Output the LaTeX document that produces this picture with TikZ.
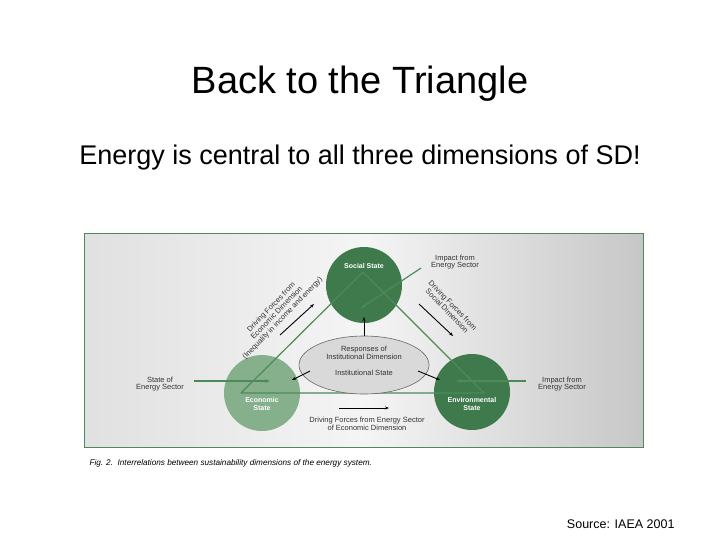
\documentclass[tikz,border=0pt]{standalone}
\usepackage{fontspec}
\setmainfont{Liberation Sans}
\usetikzlibrary{arrows.meta,shapes.geometric}
\definecolor{dg}{HTML}{3F7A4C}
\definecolor{lg}{HTML}{86B08C}
\definecolor{tl}{HTML}{4C8A5A}
\begin{document}
\begin{tikzpicture}[x=1pt,y=-1pt,
  lbl/.style={font=\fontsize{7.5}{7.8}\selectfont,align=center,text=black!80,inner sep=0pt},
  wl/.style={font=\fontsize{7}{7.5}\selectfont\bfseries,align=center,text=white},
  gl/.style={draw=tl,line width=1.2pt},
  ga/.style={draw=tl,line width=1.2pt,-{Stealth[length=5pt]}},
  ba/.style={draw=black,line width=0.9pt,-{Stealth[length=4pt]}}]
\useasboundingbox (0,0) rectangle (720,540);
\fill[white] (0,0) rectangle (720,540);
\node (title) at (360,84) {\fontsize{38}{42}\selectfont Back to the Triangle};
\node (sub) at (360,158) {\fontsize{27}{30}\selectfont Energy is central to all three dimensions of SD!};
% frame
\shade[left color=black!12,right color=black!22,middle color=black!4] (84,233) rectangle (643,447);
\draw[draw=tl,line width=0.8pt] (84,233) rectangle (643,447);
\node[anchor=west,font=\fontsize{8.2}{9}\selectfont\itshape] (cap) at (86,463) {Fig. 2.\ \ Interrelations between sustainability dimensions of the energy system.};
\node[anchor=east,font=\fontsize{12.5}{14}\selectfont] (src) at (678,524) {Source: IAEA 2001};
% circles
\node[circle,fill=dg,minimum size=76pt,inner sep=0] (soc) at (364,285) {};
\node[circle,fill=lg,minimum size=76pt,inner sep=0] (eco) at (262,393) {};
\node[circle,fill=dg,minimum size=76pt,inner sep=0] (env) at (472,392) {};
\node[wl] at (364,266) {Social State};
\node[wl] at (262,404) {Economic\\State};
\node[wl] at (472,404) {Environmental\\State};
% triangle
\coordinate (t1) at (363,272);
\coordinate (t2) at (241,393);
\coordinate (t3) at (484,393);
\draw[gl,line join=round] (t1) -- (t2) -- (t3) -- cycle;
% ellipse
\node[ellipse,draw=black!60,fill=black!15,line width=0.6pt,minimum width=130pt,minimum height=58pt] (ell) at (364,365) {};
\node[lbl] at (364,353) {Responses of\\Institutional Dimension};
\node[lbl] at (364,373) {Institutional State};
\coordinate (ut) at (364,317);
\draw[ba] (ell.north) -- (ut);
\coordinate (l1) at (310,371); \coordinate (l2) at (292,380);
\coordinate (r1) at (418,371); \coordinate (r2) at (440,380);
\draw[ba] (l1) -- (l2);
\draw[ba] (r1) -- (r2);
% impact arrows
\coordinate (a1) at (421,268); \coordinate (a2) at (361,308);
\draw[ga] (a1) -- (a2);
\node[lbl] (imp1) at (455,262) {Impact from\\Energy Sector};
\coordinate (b1) at (194,381); \coordinate (b2) at (270,381);
\draw[ga] (b1) -- (b2);
\node[lbl] (st) at (160,384) {State of\\Energy Sector};
\coordinate (c1) at (526,381); \coordinate (c2) at (456,381);
\draw[ga] (c1) -- (c2);
\node[lbl] (imp2) at (562,384) {Impact from\\Energy Sector};
% bottom
\coordinate (d1) at (339,408); \coordinate (d2) at (389,408);
\draw[ba] (d1) -- (d2);
\node[lbl] (df) at (367,424) {Driving Forces from Energy Sector\\of Economic Dimension};
% rotated labels
\node[lbl,rotate=46] (dl) at (277,313) {Driving Forces from\\Economic Dimension\\(Inequality in income and energy)};
\coordinate (e1) at (280,335); \coordinate (e2) at (314,304);
\draw[ba] (e1) -- (e2);
\node[lbl,rotate=-46] (dr) at (450,308) {Driving Forces from\\Social Dimension};
\coordinate (f1) at (419,304); \coordinate (f2) at (453,336);
\draw[ba] (f1) -- (f2);
\end{tikzpicture}
\end{document}
